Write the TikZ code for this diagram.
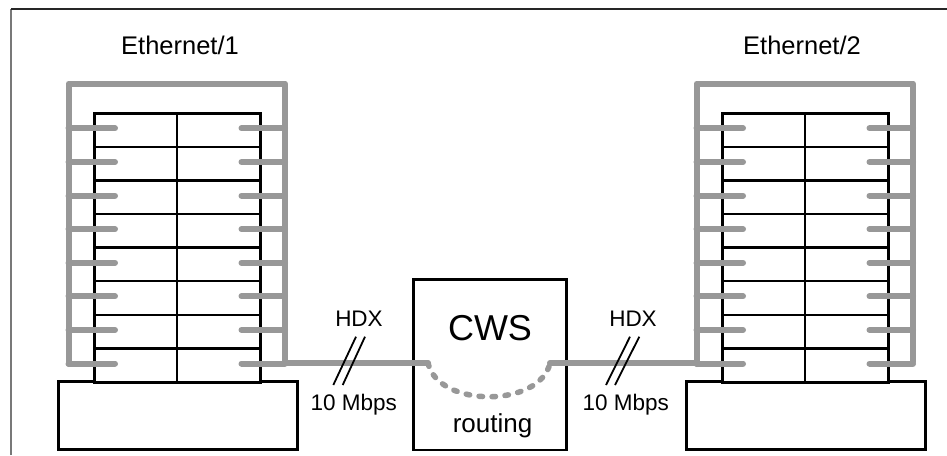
\documentclass[tikz,border=0pt]{standalone}
\usepackage{fontspec}
\setmainfont{Liberation Sans}
\usetikzlibrary{calc}
\definecolor{wiregray}{RGB}{152,152,152}
\definecolor{framegray}{RGB}{120,120,120}
\begin{document}
\begin{tikzpicture}[x=1pt,y=-1pt,
  wire/.style={draw=wiregray,line width=6pt,line cap=round,line join=round},
  dotwire/.style={draw=wiregray,line width=5.5pt,line cap=round,dash pattern=on 3.5pt off 9.5pt},
  panel/.style={draw=black,line width=3pt,fill=white,inner sep=0pt,outer sep=0pt,
    minimum width=165.7pt,minimum height=268.7pt},
  basebox/.style={draw=black,line width=3pt,fill=white,inner sep=0pt,outer sep=0pt,
    minimum width=239.4pt,minimum height=67.6pt},
  rowline/.style={draw=black,line width=2.5pt},
  hatch/.style={draw=black,line width=1.8pt},
  lbl/.style={inner sep=0pt,font=\fontsize{25.5}{28}\selectfont},
  small/.style={inner sep=0pt,font=\fontsize{22.5}{25}\selectfont}]
\useasboundingbox (0,0) rectangle (947,455);

% outer frame: only the top and left edges lie inside the page
\draw[framegray,line width=1.2pt] (11,455) -- (11,9);
\draw[black!85,line width=1.4pt] (11,9) -- (947,9);

% the two Ethernet racks
\foreach \i/\dx in {1/0,2/628}{
  \begin{scope}[xshift=\dx pt]
    \node[basebox] (base\i) at (178,415.5) {};
    \node[panel] (tab\i) at (177.15,247.65) {};
    % vertical divider and row separators
    \draw[rowline] (tab\i.north) -- (tab\i.south);
    \foreach \k in {1,...,7}
      \draw[rowline] ($(tab\i.north west)!\k/8!(tab\i.south west)$) --
                     ($(tab\i.north east)!\k/8!(tab\i.south east)$);
    % grey bus frame around the panel
    \coordinate (gL\i) at (68.5,363);
    \coordinate (gR\i) at (285,363);
    \draw[wire] (68.5,364) -- (68.5,83.5) -- (285,83.5) -- (285,362);
    % port stubs
    \foreach \k in {0,...,7}{
      \draw[wire] (68.5,{113.3+(\k+0.45)*33.5875}) -- ++(46.5,0);
      \draw[wire] (285,{113.3+(\k+0.45)*33.5875}) -- ++(-43.5,0);
    }
  \end{scope}
}

\node[lbl] (eth1) at (180,45) {Ethernet/1};
\node[lbl] (eth2) at (802,45) {Ethernet/2};

% central workstation
\node[draw=black,line width=2.8pt,fill=white,inner sep=0pt,outer sep=0pt,
      minimum width=153.4pt,minimum height=170.7pt] (cws) at (490,364.65) {};
\node[inner sep=0pt,font=\fontsize{36}{40}\selectfont] (cwsname) at (490,328) {CWS};
\node[inner sep=0pt,font=\fontsize{26}{30}\selectfont,anchor=base] (routing) at (492.5,432) {routing};

\coordinate (cwsL) at (428,363);
\coordinate (cwsR) at (550,363);

% links into and through the workstation
\draw[wire] (gR1) -- (cwsL);
\draw[wire] (cwsR) -- (gL2);
\draw[dotwire] (cwsL) .. controls (438,408) and (540,408) .. (cwsR);

% link annotations
\node[small] (hdx1) at (359,319) {HDX};
\node[small] (rate1) at (353.7,405) {10 Mbps};
\draw[hatch] (333.3,385) -- (356,336.7);
\draw[hatch] (342.7,385) -- (365,336.7);

\node[small] (hdx2) at (633,319) {HDX};
\node[small] (rate2) at (625.8,405) {10 Mbps};
\draw[hatch] (606,385) -- (630,336.7);
\draw[hatch] (615,385) -- (639.3,336.7);
\end{tikzpicture}
\end{document}
